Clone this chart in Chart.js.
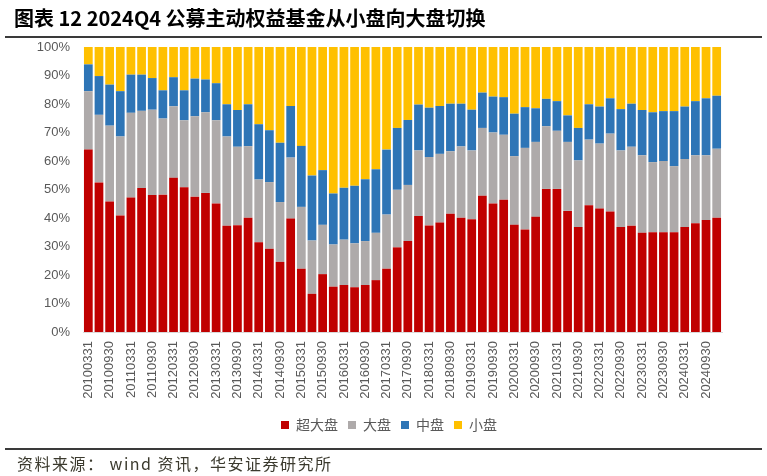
<!DOCTYPE html>
<html>
<head>
<meta charset="utf-8">
<script src="https://cdn.jsdelivr.net/npm/chart.js@4.4.1/dist/chart.umd.min.js"></script>
<style>
  html, body { margin: 0; padding: 0; background: #fff; }
  #wrap { position: relative; width: 767px; height: 476px; overflow: hidden; }
  #chart { position: absolute; left: 0; top: 0; }
  .title { position: absolute; left: 14px; top: 3px; font: bold 20px "Noto Sans CJK SC", "Liberation Sans", sans-serif; color: #000; white-space: nowrap; }
  .rule { position: absolute; left: 5px; width: 757px; height: 2px; background: #3a3a3a; }
  .source { position: absolute; left: 17px; top: 451px; font: 16px "Noto Sans CJK SC", "Liberation Sans", sans-serif; letter-spacing: 1.5px; color: #3b3a2e; white-space: nowrap; }
</style>
</head>
<body>
<div id="wrap">
  <canvas id="chart" width="767" height="476"></canvas>
  <div class="title">图表 12 2024Q4 公募主动权益基金从小盘向大盘切换</div>
  <div class="rule" style="top:36px"></div>
  <div class="rule" style="top:448px"></div>
  <div class="source">资料来源： wind 资讯，华安证券研究所</div>
</div>
<script>
const dates = [
    '20100331', '20100630', '20100930', '20101231',
    '20110331', '20110630', '20110930', '20111231',
    '20120331', '20120630', '20120930', '20121231',
    '20130331', '20130630', '20130930', '20131231',
    '20140331', '20140630', '20140930', '20141231',
    '20150331', '20150630', '20150930', '20151231',
    '20160331', '20160630', '20160930', '20161231',
    '20170331', '20170630', '20170930', '20171231',
    '20180331', '20180630', '20180930', '20181231',
    '20190331', '20190630', '20190930', '20191231',
    '20200331', '20200630', '20200930', '20201231',
    '20210331', '20210630', '20210930', '20211231',
    '20220331', '20220630', '20220930', '20221231',
    '20230331', '20230630', '20230930', '20231231',
    '20240331', '20240630', '20240930', '20241231'
];

// 超大盘
const superLarge = [
    64.0, 52.5, 45.8, 40.9, 47.2, 50.5, 48.1, 48.2, 54.1, 50.8,
    47.5, 48.8, 45.1, 37.3, 37.5, 40.1, 31.5, 29.2, 24.6, 39.8,
    22.2, 13.4, 20.3, 15.9, 16.5, 15.7, 16.5, 18.2, 22.2, 29.7,
    31.9, 40.7, 37.4, 38.4, 41.5, 40.1, 39.6, 47.8, 45.1, 46.4,
    37.6, 36.0, 40.4, 50.2, 50.2, 42.5, 36.8, 44.5, 43.3, 42.3,
    36.8, 37.3, 34.8, 35.0, 35.0, 35.0, 36.8, 38.2, 39.3, 40.1
];
// 大盘
const large = [
    20.5, 23.7, 26.6, 27.7, 29.7, 27.1, 29.9, 26.7, 25.1, 23.5,
    28.2, 28.3, 29.2, 31.3, 27.5, 25.1, 22.0, 23.4, 21.0, 21.4,
    21.7, 18.7, 17.3, 14.8, 15.9, 15.4, 15.4, 16.6, 19.0, 20.2,
    19.7, 23.0, 24.0, 24.1, 21.9, 25.0, 24.1, 23.8, 24.9, 22.8,
    24.1, 28.6, 26.3, 22.0, 20.4, 24.2, 23.4, 23.0, 22.8, 27.3,
    26.9, 27.7, 27.2, 24.6, 25.0, 23.2, 23.9, 23.8, 22.7, 24.2
];
// 中盘
const mid = [
    9.4, 13.6, 14.4, 15.9, 13.4, 12.7, 11.1, 9.9, 10.2, 10.5,
    13.2, 11.5, 13.0, 11.3, 12.9, 14.7, 19.4, 18.2, 20.8, 18.1,
    21.4, 22.8, 19.2, 17.9, 18.2, 20.2, 21.7, 22.3, 22.8, 21.7,
    22.8, 16.1, 17.3, 16.8, 16.7, 15.0, 14.3, 12.4, 12.6, 13.2,
    14.9, 14.3, 11.8, 9.6, 10.4, 9.3, 11.4, 12.4, 13.0, 12.4,
    14.5, 15.1, 15.9, 17.5, 17.5, 19.3, 18.4, 19.0, 20.0, 18.6
];
// 小盘
const small = [
    6.1, 10.2, 13.2, 15.5, 9.7, 9.7, 10.9, 15.2, 10.6, 15.2,
    11.1, 11.4, 12.7, 20.1, 22.1, 20.1, 27.1, 29.2, 33.6, 20.7,
    34.7, 45.1, 43.2, 51.4, 49.4, 48.7, 46.4, 42.9, 36.0, 28.4,
    25.6, 20.2, 21.3, 20.7, 19.9, 19.9, 22.0, 16.0, 17.4, 17.6,
    23.4, 21.1, 21.5, 18.2, 19.0, 24.0, 28.4, 20.1, 20.9, 18.0,
    21.8, 19.9, 22.1, 22.9, 22.5, 22.5, 20.9, 19.0, 18.0, 17.1
];

const axisGray = '#595959';

const makeSet = (label, data, color) => ({
    label: label,
    data: data,
    backgroundColor: color,
    borderWidth: 0,
    barPercentage: 0.82,
    categoryPercentage: 1.0
});

new Chart(document.getElementById('chart').getContext('2d'), {
    type: 'bar',
    data: {
        labels: dates,
        datasets: [
            makeSet('超大盘', superLarge, '#C00000'),
            makeSet('大盘', large, '#AEAAAA'),
            makeSet('中盘', mid, '#2E75B6'),
            makeSet('小盘', small, '#FFC000')
        ]
    },
    options: {
        responsive: false,
        animation: false,
        layout: {
            padding: { left: 34, right: 23, top: 47, bottom: 34 }
        },
        scales: {
            x: {
                stacked: true,
                grid: { display: false, drawTicks: false },
                border: { display: true, color: '#d9d9d9', width: 1 },
                ticks: {
                    autoSkip: false,
                    minRotation: 90,
                    maxRotation: 90,
                    padding: 9,
                    color: axisGray,
                    font: { family: '"Liberation Sans", Arial', size: 13 },
                    callback: function (val, idx) {
                        return idx % 2 === 0 ? this.getLabelForValue(val) : '';
                    }
                },
                afterFit: (scale) => { scale.height = 76; }
            },
            y: {
                stacked: true,
                min: 0,
                max: 100,
                grid: { display: false, drawTicks: false },
                border: { display: false },
                ticks: {
                    stepSize: 10,
                    padding: 13,
                    color: axisGray,
                    font: { family: '"Liberation Sans", Arial', size: 13 },
                    callback: (v) => v + '%'
                },
                afterFit: (scale) => { scale.width = 49; }
            },
            // empty right-hand strip, keeps the plot narrower than the legend band
            yRight: {
                position: 'right',
                min: 0,
                max: 100,
                grid: { display: false, drawTicks: false },
                border: { display: false },
                ticks: { display: false },
                afterFit: (scale) => { scale.width = 22; }
            }
        },
        plugins: {
            legend: {
                position: 'bottom',
                labels: {
                    boxWidth: 8,
                    boxHeight: 8,
                    padding: 10,
                    color: axisGray,
                    font: { family: '"Noto Sans CJK SC", sans-serif', size: 14 }
                }
            },
            tooltip: { enabled: false }
        }
    }
});
</script>
</body>
</html>
